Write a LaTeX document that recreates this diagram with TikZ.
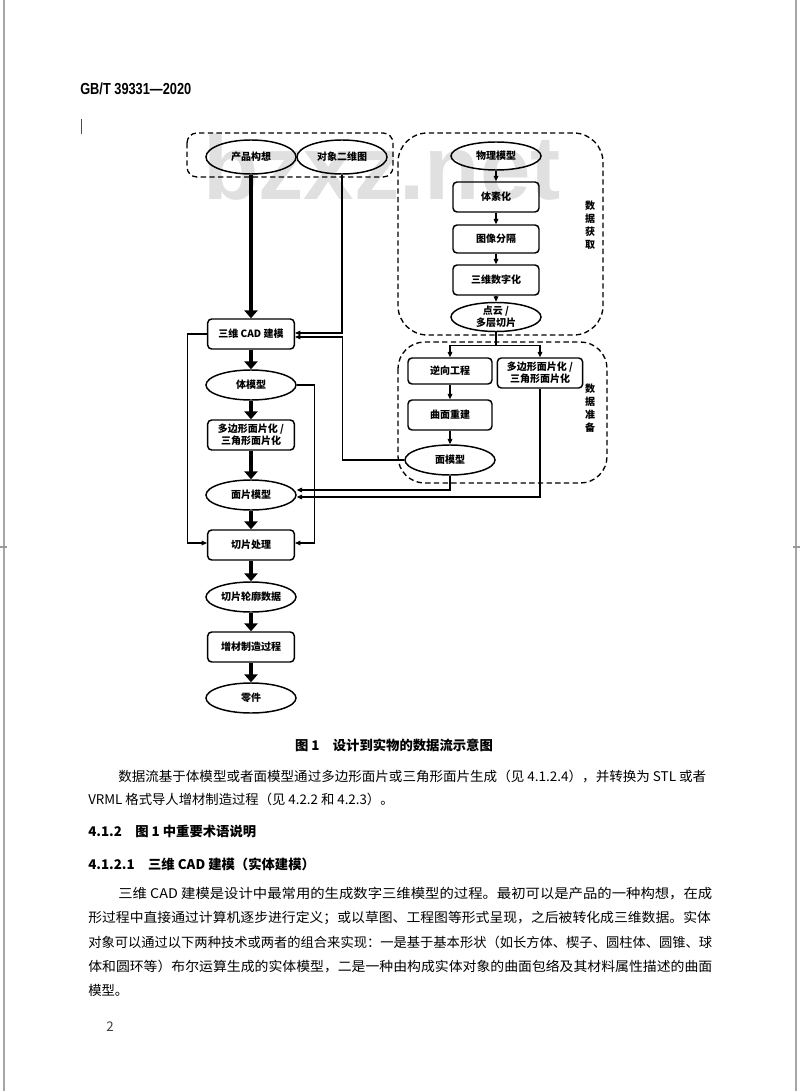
\documentclass[tikz,border=0pt]{standalone}
\usepackage{fontspec}
\usepackage{graphicx}
\setmainfont{Noto Sans CJK SC}
\newfontfamily\headfont{Liberation Sans}
\usetikzlibrary{arrows.meta,shapes.geometric}

% stretch one printed line to its measure
\newcommand{\fitline}[2]{\resizebox{#1}{\height}{#2}}

\begin{document}
\begin{tikzpicture}[x=0.75pt, y=-0.75pt,
    box/.style={draw, line width=1.1pt, rounded corners=3pt, minimum width=65pt, minimum height=22.5pt, inner sep=1pt, align=center, font=\bfseries\fontsize{7.5}{9}\selectfont},
    oval/.style={draw, ellipse, line width=1.1pt, minimum width=67.5pt, minimum height=22.5pt, inner xsep=0pt, inner ysep=-3pt, align=center, font=\bfseries\fontsize{7.5}{9}\selectfont},
    group/.style={draw, line width=1pt, dash pattern=on 4pt off 2.5pt, rounded corners=#1},
    flow/.style={line width=3pt, -{Triangle[width=10pt,length=6pt]}},
    conn/.style={line width=0.8pt, -{Triangle[width=3.5pt,length=4pt]}},
    side/.style={align=center, inner sep=0pt, font=\bfseries\fontsize{7.5}{9.75}\selectfont},
    body/.style={anchor=west, inner sep=0pt, font=\fontsize{10}{12}\selectfont},
    head/.style={anchor=west, inner sep=0pt, font=\bfseries\fontsize{10}{12}\selectfont},
  ]

  \useasboundingbox (0,0) rectangle (800,1091);

  % Page edges
  \draw[black!35, line width=1.5pt] (4,0) -- (4,1091);
  \draw[black!35, line width=1.5pt] (796,0) -- (796,1091);
  \draw[black!40, line width=1pt] (0,547) -- (7,547);
  \draw[black!40, line width=1pt] (793,547) -- (800,547);
  \draw[black!70, line width=0.6pt] (81,119) -- (81,134);

  % Watermark
  \node[anchor=base, inner sep=0pt, text=black!12, font=\headfont\bfseries\fontsize{68}{68}\selectfont] (mark) at (382,200) {bzxz.net};

  % Header
  \node[anchor=west, inner sep=0pt] (code) at (80,89) {\scalebox{0.8}[1]{\headfont\bfseries\fontsize{12}{14}\selectfont GB/T 39331—2020}};

  % Groups
  \draw[group=7.5pt] (187,133) rectangle (393,177);
  \draw[group=22pt] (398,133) rectangle (603,335);
  \draw[group=20pt] (398,342) rectangle (607,483);
  \node[side] (acq) at (590,225) {数\\据\\获\\取};
  \node[side] (prep) at (590,408) {数\\据\\准\\备};

  % Nodes: main chain
  \node[oval, minimum height=25.5pt] (idea) at (251,157) {产品构想};
  \node[oval, minimum height=25.5pt] (draw2d) at (342,157) {对象二维图};
  \node[box] (cad) at (251,334) {三维 CAD 建模};
  \node[oval] (solid) at (251,385) {体模型};
  \node[box] (mesh) at (251,435) {多边形面片化 /\\三角形面片化};
  \node[oval] (facet) at (251,495) {面片模型};
  \node[box] (slice) at (251,545) {切片处理};
  \node[oval] (contour) at (251,597) {切片轮廓数据};
  \node[box] (am) at (251,647) {增材制造过程};
  \node[oval] (part) at (251,698) {零件};

  % Nodes: data acquisition
  \node[oval, minimum height=21pt] (phys) at (496,156) {物理模型};
  \node[box, minimum width=64.5pt] (voxel) at (496,197) {体素化};
  \node[box, minimum width=64.5pt, minimum height=21pt] (segm) at (496,239) {图像分隔};
  \node[box, minimum width=64.5pt] (digit) at (496,280) {三维数字化};
  \node[oval, minimum height=21.75pt] (cloud) at (496,317) {点云 /\\多层切片};

  % Nodes: data preparation
  \node[box, minimum width=63pt, minimum height=19.5pt] (reverse) at (450,371) {逆向工程};
  \node[box, minimum width=64pt] (meshr) at (540,373) {多边形面片化 /\\三角形面片化};
  \node[box, minimum width=63pt] (surf) at (450,415) {曲面重建};
  \node[oval] (surfmodel) at (450,460) {面模型};

  % Main flow
  \draw[flow] (idea.south) -- (idea.south |- cad.north);
  \foreach \a/\b in {cad/solid, solid/mesh, mesh/facet, facet/slice, slice/contour, contour/am, am/part}
    \draw[flow] (\a) -- (\b);

  % Side connections
  \draw[conn] (draw2d.south) |- ([yshift=0.75pt]cad.east);
  \draw[conn] (surfmodel.west) -- ++(-62,0) |- ([yshift=-2.25pt]cad.east);
  \draw[conn] (cad.west) -- ++(-19,0) |- ([yshift=1.5pt]slice.west);
  \draw[conn] (solid.east) -- ++(18,0) |- ([yshift=1.5pt]slice.east);
  \draw[conn] (surfmodel.south) |- ([yshift=3.75pt]facet.east);
  \draw[conn] (meshr.south) |- ([yshift=-1.5pt]facet.east);

  % Acquisition and preparation
  \foreach \a/\b in {phys/voxel, voxel/segm, segm/digit, digit/cloud, reverse/surf, surf/surfmodel}
    \draw[conn] (\a) -- (\b);
  \draw[conn] (cloud.south) -- ++(0,13) -| (reverse.north);
  \draw[conn] (cloud.south) -- ++(0,13) -| (meshr.north);

  % Caption and text
  \node[font=\bfseries\fontsize{10}{12}\selectfont] (caption) at (394,745) {图 1\quad 设计到实物的数据流示意图};
  \node[body] (p1a) at (118,776) {\fitline{441pt}{数据流基于体模型或者面模型通过多边形面片或三角形面片生成（见 4.1.2.4），并转换为 STL 或者}};
  \node[body] (p1b) at (88,799) {VRML 格式导人增材制造过程（见 4.2.2 和 4.2.3）。};
  \node[head] (h1) at (88,831) {4.1.2\quad 图 1 中重要术语说明};
  \node[head] (h2) at (88,864) {4.1.2.1\quad 三维 CAD 建模（实体建模）};
  \node[body] (p2a) at (118,894) {\fitline{445.5pt}{三维 CAD 建模是设计中最常用的生成数字三维模型的过程。最初可以是产品的一种构想，在成}};
  \node[body] (p2b) at (88,918) {\fitline{467pt}{形过程中直接通过计算机逐步进行定义；或以草图、工程图等形式呈现，之后被转化成三维数据。实体}};
  \node[body] (p2c) at (88,942) {\fitline{468pt}{对象可以通过以下两种技术或两者的组合来实现：一是基于基本形状（如长方体、楔子、圆柱体、圆锥、球}};
  \node[body] (p2d) at (88,966) {\fitline{468pt}{体和圆环等）布尔运算生成的实体模型，二是一种由构成实体对象的曲面包络及其材料属性描述的曲面}};
  \node[body] (p2e) at (88,990) {模型。};
  \node[body, text=black!75] (page) at (106,1027) {2};
\end{tikzpicture}
\end{document}
